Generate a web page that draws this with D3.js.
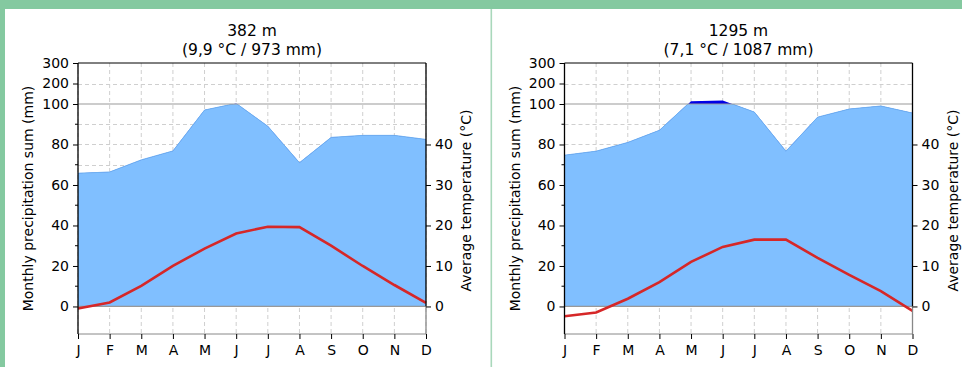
<!DOCTYPE html>
<html>
<head>
<meta charset="utf-8">
<script src="https://cdn.jsdelivr.net/npm/d3@7"></script>
<style>
  html, body { margin: 0; padding: 0; background: #fff; }
  svg { display: block; font-family: "DejaVu Sans", sans-serif; }
</style>
</head>
<body>
<div id="chart"></div>
<script>
// month labels shared by both diagrams
const months = ["J", "F", "M", "A", "M", "J", "J", "A", "S", "O", "N", "D"];

// station 1 : 382 m
const titles1 = ["382 m", "(9,9 °C / 973 mm)"];
const precip1 = [65.8, 66.4, 72.4, 76.8, 97, 103, 89, 71, 83.5, 84.5, 84.5, 82.5];
const temp1 = [-0.5, 1.0, 5.1, 10, 14.3, 18, 19.7, 19.6, 15, 10, 5.3, 0.9];

// station 2 : 1295 m
const titles2 = ["1295 m", "(7,1 °C / 1087 mm)"];
const precip2 = [74.7, 76.7, 81, 87, 114, 117, 96, 76.7, 93.5, 97.5, 99, 95.5];
const temp2 = [-2.4, -1.5, 1.9, 6, 11, 14.7, 16.5, 16.5, 12, 7.8, 3.8, -1.1];

// axis ticks
const precipLabels = [0, 20, 40, 60, 80, 100, 200, 300];
const precipMinor = [10, 30, 50, 70, 90];
const precipGrid = [10, 20, 30, 40, 50, 60, 70, 80, 90, 200];
const tempLabels = [0, 10, 20, 30, 40];

const W = 962, H = 367;
const svg = d3.select("#chart").append("svg").attr("width", W).attr("height", H);

// green frame + divider
svg.append("rect").attr("x", 0).attr("y", 0).attr("width", W).attr("height", 9).attr("fill", "#84c9a0");
svg.append("rect").attr("x", 0).attr("y", 0).attr("width", 5).attr("height", H).attr("fill", "#84c9a0");
svg.append("rect").attr("x", 490.5).attr("y", 9).attr("width", 1.6).attr("height", H).attr("fill", "#a9d8bb");

const drawDiagram = (left, titles, precip, temp) => {
  const width = 348, top = 63, bottom = 334;
  const g = svg.append("g").attr("transform", `translate(${left},0)`);

  const x = d3.scalePoint().domain(d3.range(12)).range([0, width]);
  // compressed scale above 100 mm
  const y = d3.scaleLinear().domain([-13.6, 100, 300]).range([bottom, 104, top]);
  // temperature: 10 °C = 20 mm
  const yt = (t) => y(t * 2);

  // grid
  g.selectAll(".vgrid").data(d3.range(12)).enter().append("line")
    .attr("x1", (d) => x(d)).attr("x2", (d) => x(d))
    .attr("y1", top).attr("y2", bottom)
    .attr("stroke", "#cfcfcf").attr("stroke-width", 1).attr("stroke-dasharray", "4,3");
  g.selectAll(".hgrid").data(precipGrid).enter().append("line")
    .attr("x1", 0).attr("x2", width)
    .attr("y1", (d) => Math.round(y(d)) + 0.5).attr("y2", (d) => Math.round(y(d)) + 0.5)
    .attr("stroke", "#cfcfcf").attr("stroke-width", 1).attr("stroke-dasharray", "4,3");

  // precipitation area, light up to 100, dark above
  const clipId = "clip" + Math.round(left);
  g.append("clipPath").attr("id", clipId).append("rect")
    .attr("x", 0).attr("y", y(100)).attr("width", width).attr("height", y(0) - y(100));
  const area = d3.area().x((d, i) => x(i)).y0(y(0)).y1((d) => y(d));
  g.append("path").datum(precip).attr("d", area)
    .attr("fill", "#0000e6");
  g.append("path").datum(precip).attr("d", area)
    .attr("fill", "#80bfff").attr("stroke", "#6fb0f0").attr("stroke-width", 1)
    .attr("clip-path", `url(#${clipId})`);

  // reference lines at 0 and 100 mm
  [0, 100].forEach((v) => {
    g.append("line").attr("x1", 0).attr("x2", width)
      .attr("y1", y(v)).attr("y2", y(v))
      .attr("stroke", "#999").attr("stroke-width", 1.2);
  });

  // temperature line
  const line = d3.line().x((d, i) => x(i)).y((d) => yt(d));
  g.append("path").datum(temp).attr("d", line)
    .attr("fill", "none").attr("stroke", "#d62728").attr("stroke-width", 2.6);

  // spines
  g.append("line").attr("x1", 0).attr("x2", width).attr("y1", top).attr("y2", top).attr("stroke", "#000");
  g.append("line").attr("x1", 0).attr("x2", width).attr("y1", bottom).attr("y2", bottom).attr("stroke", "#888");
  g.append("line").attr("x1", 0).attr("x2", 0).attr("y1", top).attr("y2", bottom).attr("stroke", "#000").attr("stroke-width", 1.3);
  g.append("line").attr("x1", width).attr("x2", width).attr("y1", top).attr("y2", y(0)).attr("stroke", "#000").attr("stroke-width", 1.3);
  g.append("line").attr("x1", width).attr("x2", width).attr("y1", y(0)).attr("y2", bottom).attr("stroke", "#888").attr("stroke-width", 1.3);

  // left axis
  const yAxis = g.append("g")
    .call(d3.axisLeft(y).tickValues(precipLabels).tickSize(5).tickPadding(4).tickFormat(d3.format("d")));
  yAxis.select(".domain").remove();
  yAxis.selectAll("text").attr("font-size", 14).attr("font-family", "DejaVu Sans").attr("fill", "#000");
  g.selectAll(".minor").data(precipMinor).enter().append("line")
    .attr("x1", -3).attr("x2", 0).attr("y1", (d) => y(d)).attr("y2", (d) => y(d)).attr("stroke", "#000");

  // right axis
  const tAxis = g.append("g").attr("transform", `translate(${width},0)`)
    .call(d3.axisRight(d3.scaleLinear().domain([0, 40]).range([yt(0), yt(40)]))
      .tickValues(tempLabels).tickSize(5).tickPadding(4));
  tAxis.select(".domain").remove();
  tAxis.selectAll("text").attr("font-size", 14).attr("font-family", "DejaVu Sans").attr("fill", "#000");

  // x axis
  const xAxis = g.append("g").attr("transform", `translate(0,${bottom})`)
    .call(d3.axisBottom(x).tickSize(5).tickPadding(6).tickFormat((d) => months[d]));
  xAxis.select(".domain").remove();
  xAxis.selectAll("text").attr("font-size", 14).attr("font-family", "DejaVu Sans").attr("fill", "#000");

  // axis titles
  g.append("text").attr("transform", `translate(-45,${(top + bottom) / 2}) rotate(-90)`)
    .attr("text-anchor", "middle").attr("font-size", 14).text("Monthly precipitation sum (mm)");
  g.append("text").attr("transform", `translate(${width + 45},${(top + bottom) / 2 + 2}) rotate(-90)`)
    .attr("text-anchor", "middle").attr("font-size", 14).text("Average temperature (°C)");

  // title
  g.append("text").attr("x", width / 2).attr("y", 36).attr("text-anchor", "middle")
    .attr("font-size", 15.5).text(titles[0]);
  g.append("text").attr("x", width / 2).attr("y", 55).attr("text-anchor", "middle")
    .attr("font-size", 15.5).text(titles[1]);
};

drawDiagram(78, titles1, precip1, temp1);
drawDiagram(564.5, titles2, precip2, temp2);
</script>
</body>
</html>
